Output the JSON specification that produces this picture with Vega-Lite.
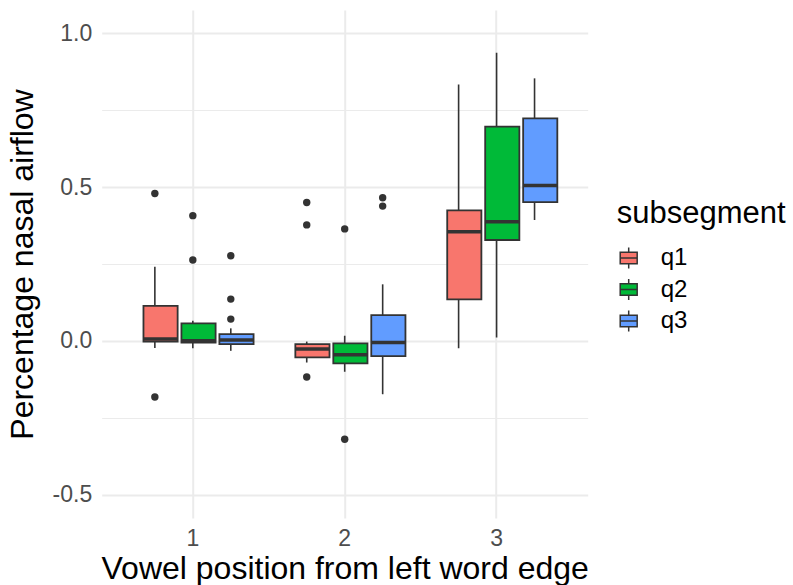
{
  "$schema": "https://vega.github.io/schema/vega-lite/v6.json",
  "width": 486,
  "height": 508,
  "autosize": {"type": "none"},
  "padding": {"left": 101.7, "top": 10, "right": 205.3, "bottom": 67},
  "background": "white",
  "config": {
    "view": {"stroke": null},
    "font": "Liberation Sans",
    "axis": {
      "domain": false,
      "ticks": false,
      "tickSize": 0,
      "gridColor": "#EBEBEB",
      "gridWidth": 2,
      "labelColor": "#4D4D4D",
      "labelFontSize": 23,
      "labelFont": "Liberation Sans",
      "titleFont": "Liberation Sans",
      "titleFontSize": 32,
      "titleFontWeight": "normal",
      "titleColor": "#000000"
    },
    "legend": {
      "labelFont": "Liberation Sans",
      "titleFont": "Liberation Sans"
    }
  },
  "datasets": {
    "boxes": [
      {"position": "1", "subsegment": "q1", "lower": -0.023, "q1": -0.002, "median": 0.006, "q3": 0.114, "upper": 0.241},
      {"position": "1", "subsegment": "q2", "lower": -0.024, "q1": -0.005, "median": 0.001, "q3": 0.057, "upper": 0.066},
      {"position": "1", "subsegment": "q3", "lower": -0.032, "q1": -0.010, "median": 0.003, "q3": 0.022, "upper": 0.041},
      {"position": "2", "subsegment": "q1", "lower": -0.070, "q1": -0.053, "median": -0.026, "q3": -0.010, "upper": -0.002},
      {"position": "2", "subsegment": "q2", "lower": -0.100, "q1": -0.073, "median": -0.045, "q3": -0.008, "upper": 0.017},
      {"position": "2", "subsegment": "q3", "lower": -0.173, "q1": -0.049, "median": -0.005, "q3": 0.084, "upper": 0.184},
      {"position": "3", "subsegment": "q1", "lower": -0.024, "q1": 0.135, "median": 0.355, "q3": 0.424, "upper": 0.833},
      {"position": "3", "subsegment": "q2", "lower": 0.011, "q1": 0.328, "median": 0.387, "q3": 0.696, "upper": 0.936},
      {"position": "3", "subsegment": "q3", "lower": 0.393, "q1": 0.451, "median": 0.505, "q3": 0.723, "upper": 0.853}
    ],
    "outliers": [
      {"position": "1", "subsegment": "q1", "value": 0.479},
      {"position": "1", "subsegment": "q1", "value": -0.182},
      {"position": "1", "subsegment": "q2", "value": 0.407},
      {"position": "1", "subsegment": "q2", "value": 0.263},
      {"position": "1", "subsegment": "q3", "value": 0.277},
      {"position": "1", "subsegment": "q3", "value": 0.136},
      {"position": "1", "subsegment": "q3", "value": 0.071},
      {"position": "2", "subsegment": "q1", "value": 0.450},
      {"position": "2", "subsegment": "q1", "value": 0.377},
      {"position": "2", "subsegment": "q1", "value": -0.117},
      {"position": "2", "subsegment": "q2", "value": 0.364},
      {"position": "2", "subsegment": "q2", "value": -0.319},
      {"position": "2", "subsegment": "q3", "value": 0.465},
      {"position": "2", "subsegment": "q3", "value": 0.438}
    ]
  },
  "encoding": {
    "x": {
      "field": "position",
      "type": "nominal",
      "scale": {"domain": ["1", "2", "3"], "paddingInner": 0, "paddingOuter": 0.1},
      "axis": {
        "title": "Vowel position from left word edge",
        "labelAngle": 0,
        "labelPadding": 9,
        "titlePadding": 3,
        "grid": true,
        "gridWidth": 2
      }
    },
    "xOffset": {
      "field": "subsegment",
      "type": "nominal",
      "scale": {"domain": ["q1", "q2", "q3"], "paddingInner": 0, "paddingOuter": 0.5}
    }
  },
  "layer": [
    {
      "data": {"name": "boxes"},
      "mark": {"type": "rule", "color": "#333333", "strokeWidth": 1.6},
      "encoding": {
        "y": {
          "field": "lower",
          "type": "quantitative",
          "scale": {"domain": [-0.575, 1.075], "nice": false, "zero": false},
          "axis": {
            "title": "Percentage nasal airflow",
            "values": [-0.5, 0, 0.5, 1.0],
            "labelExpr": "datum.value < 0 ? '-' + format(-datum.value, '.1f') : format(datum.value, '.1f')",
            "labelPadding": 10,
            "titlePadding": 13,
            "grid": true,
            "gridWidth": 2
          }
        },
        "y2": {"field": "upper"}
      }
    },
    {
      "data": {"name": "boxes"},
      "mark": {"type": "bar", "stroke": "#333333", "strokeWidth": 1.8, "width": {"band": 0.9}},
      "encoding": {
        "y": {
          "field": "q1",
          "type": "quantitative",
          "axis": {
            "title": null,
            "labels": false,
            "values": [-0.25, 0.25, 0.75],
            "grid": true,
            "gridWidth": 1,
            "orient": "left"
          }
        },
        "y2": {"field": "q3"},
        "fill": {
          "field": "subsegment",
          "type": "nominal",
          "scale": {"domain": ["q1", "q2", "q3"], "range": ["#F8766D", "#00BA38", "#619CFF"]},
          "legend": {
            "title": "subsegment",
            "orient": "none",
            "legendX": 515,
            "legendY": 189,
            "titleFontSize": 31,
            "titleFontWeight": "normal",
            "titleColor": "#000000",
            "titlePadding": 16,
            "labelFontSize": 24,
            "labelColor": "#000000",
            "labelOffset": 20,
            "rowPadding": 3.5,
            "symbolType": "M-0.8,-0.55H0.8V0.55H-0.8Z M-0.8,0H0.8 M0,-0.55V-1 M0,0.55V1",
            "symbolSize": 450,
            "symbolStrokeColor": "#333333",
            "symbolStrokeWidth": 1.5,
            "symbolOpacity": 1
          }
        }
      }
    },
    {
      "data": {"name": "boxes"},
      "mark": {"type": "bar", "fill": null, "stroke": "#333333", "strokeWidth": 3.5, "width": {"band": 0.9}},
      "encoding": {
        "y": {"field": "median", "type": "quantitative", "axis": null},
        "y2": {"field": "median"}
      }
    },
    {
      "data": {"name": "outliers"},
      "mark": {"type": "circle", "color": "#333333", "opacity": 1, "size": 55},
      "encoding": {
        "y": {"field": "value", "type": "quantitative", "axis": null}
      }
    }
  ],
  "resolve": {"axis": {"y": "independent"}}
}
